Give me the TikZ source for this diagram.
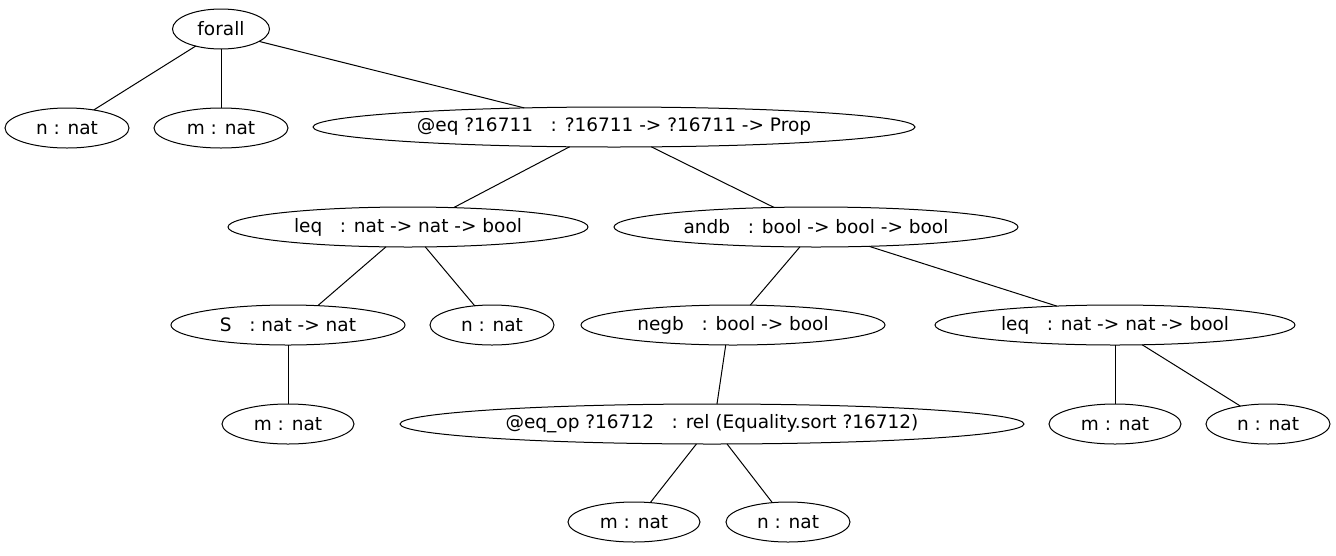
\documentclass[tikz,border=0pt]{standalone}
\usepackage{fontspec}
\setmainfont{DejaVu Sans}
\usetikzlibrary{shapes.geometric}
\begin{document}
\begin{tikzpicture}[x=1pt,y=-1pt,
  tn/.style={draw, ellipse, line width=1pt, inner sep=0pt, outer sep=0pt,
    minimum height=40pt, font=\fontsize{18.5}{20}\selectfont},
  edge/.style={line width=1pt}]
\useasboundingbox (0,0) rectangle (1336,555);
\node[tn, minimum width=97pt]  (forall) at (221,29) {forall};
\node[tn, minimum width=124pt] (n1) at (67,128) {n : nat};
\node[tn, minimum width=134pt] (m1) at (221,128) {m : nat};
\node[tn, minimum width=602pt] (eq) at (614,127) {@eq ?16711\ \ \ : ?16711 -> ?16711 -> Prop};
\node[tn, minimum width=360pt] (leq1) at (408,227) {leq\ \ \ : nat -> nat -> bool};
\node[tn, minimum width=404pt] (andb) at (816,227) {andb\ \ \ : bool -> bool -> bool};
\node[tn, minimum width=234pt] (S) at (288,325) {S\ \ \ : nat -> nat};
\node[tn, minimum width=124pt] (n2) at (492,325) {n : nat};
\node[tn, minimum width=304pt] (negb) at (733,325) {negb\ \ \ : bool -> bool};
\node[tn, minimum width=360pt] (leq2) at (1115,325) {leq\ \ \ : nat -> nat -> bool};
\node[tn, minimum width=132pt] (m2) at (288,424) {m : nat};
\node[tn, minimum width=624pt] (eqop) at (712,424) {@eq\_op ?16712\ \ \ : rel (Equality.sort ?16712)};
\node[tn, minimum width=132pt] (m3) at (1115,424) {m : nat};
\node[tn, minimum width=124pt] (n3) at (1268,424) {n : nat};
\node[tn, minimum width=132pt] (m4) at (634,522) {m : nat};
\node[tn, minimum width=124pt] (n4) at (788,522) {n : nat};
\draw[edge] (forall.214) -- (n1.34);
\draw[edge] (forall.south) -- (m1.north);
\draw[edge] (forall.342) -- (eq.168.5);
\draw[edge] (eq.204.8) -- (leq1.23.3);
\draw[edge] (eq.332.5) -- (andb.155.8);
\draw[edge] (leq1.222.9) -- (S.33.7);
\draw[edge] (leq1.311.3) -- (n2.132.4);
\draw[edge] (andb.231) -- (negb.49);
\draw[edge] (andb.340.6) -- (leq2.162.3);
\draw[edge] (S.south) -- (m2.north);
\draw[edge] (negb.250.2) -- (eqop.76);
\draw[edge] (leq2.south) -- (m3.north);
\draw[edge] (leq2.324.5) -- (n3.147.5);
\draw[edge] (eqop.232.8) -- (m4.50.7);
\draw[edge] (eqop.307.2) -- (n4.129.3);
\end{tikzpicture}
\end{document}
